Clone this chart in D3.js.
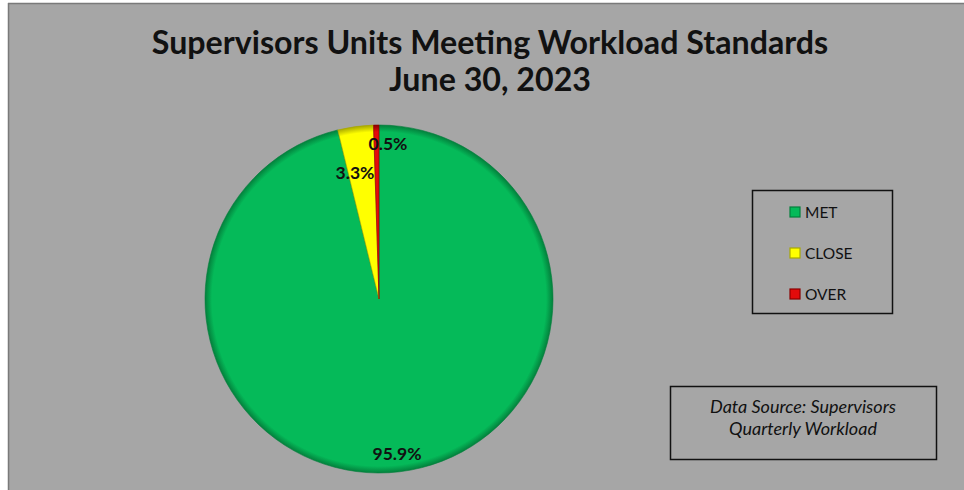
<!DOCTYPE html>
<html>
<head>
<meta charset="utf-8">
<script src="https://cdn.jsdelivr.net/npm/d3@7"></script>
<style>
  body { margin: 0; background: #fff; }
  svg { display: block; }
</style>
</head>
<body>
<svg class="chart"></svg>
<script>
// Chart size
const width = 964;
const height = 490;

// Data
const categories = ["MET", "CLOSE", "OVER"];
const values = [95.9, 3.3, 0.5];
const labels = ["95.9%", "3.3%", "0.5%"];
const colors = ["#05ba59", "#ffff00", "#e30b0b"];
const edgeColors = ["#03803c", "#a8a800", "#8a0000"];
const titleLines = ["Supervisors Units Meeting Workload Standards", "June 30, 2023"];
const sourceLines = ["Data Source: Supervisors", "Quarterly Workload"];

const font = "Lato, 'Open Sans', sans-serif";

const svg = d3.select(".chart")
    .attr("width", width)
    .attr("height", height);

// Chart area background with darker top/left edge
svg.append("rect")
    .attr("x", 8).attr("y", 3)
    .attr("width", width).attr("height", height)
    .attr("fill", "#a6a6a6");
svg.append("line")
    .attr("x1", 8.5).attr("y1", 3).attr("x2", 8.5).attr("y2", height)
    .attr("stroke", "#7a7a7a").attr("stroke-width", 1.5);
svg.append("line")
    .attr("x1", 8).attr("y1", 3.5).attr("x2", width).attr("y2", 3.5)
    .attr("stroke", "#7a7a7a").attr("stroke-width", 1.5);

// Title
svg.append("text")
    .attr("text-anchor", "middle")
    .attr("font-family", font)
    .attr("font-weight", "bold")
    .attr("font-size", 32.2)
    .attr("fill", "#111")
    .selectAll("tspan")
    .data(titleLines)
    .enter().append("tspan")
    .attr("x", 490)
    .attr("y", (d, i) => 54 + i * 37)
    .text(d => d);

// Pie
const cx = 379, cy = 299, r = 174;

const defs = svg.append("defs");
colors.forEach((c, i) => {
    const grad = defs.append("radialGradient")
        .attr("id", "bevel" + i)
        .attr("gradientUnits", "userSpaceOnUse")
        .attr("cx", 0).attr("cy", 0).attr("r", r);
    grad.append("stop").attr("offset", "0%").attr("stop-color", c);
    grad.append("stop").attr("offset", "96%").attr("stop-color", c);
    grad.append("stop").attr("offset", "100%").attr("stop-color", edgeColors[i]);
});

const pie = d3.pie().sort(null).value(d => d);
const arcs = pie(values);
const arc = d3.arc().innerRadius(0).outerRadius(r);

const g = svg.append("g").attr("transform", `translate(${cx},${cy})`);

g.selectAll(".slice")
    .data(arcs)
    .enter().append("path")
    .attr("class", "slice")
    .attr("d", arc)
    .attr("fill", (d, i) => `url(#bevel${i})`)
    .attr("stroke", (d, i) => edgeColors[i])
    .attr("stroke-width", 0.6);

// Data labels
const labelPos = [[18, 154], [-24, -127], [9, -156]];
g.selectAll(".lbl")
    .data(arcs)
    .enter().append("text")
    .attr("class", "lbl")
    .attr("x", (d, i) => labelPos[i][0])
    .attr("y", (d, i) => labelPos[i][1])
    .attr("text-anchor", "middle")
    .attr("dominant-baseline", "central")
    .attr("font-family", font)
    .attr("font-weight", "bold")
    .attr("font-size", 17.5)
    .attr("fill", "#111")
    .text((d, i) => labels[i]);

// Legend
svg.append("rect")
    .attr("x", 752.5).attr("y", 190.5)
    .attr("width", 140).attr("height", 123)
    .attr("fill", "none")
    .attr("stroke", "#111").attr("stroke-width", 1.5);

const legend = svg.selectAll(".leg")
    .data(categories)
    .enter().append("g")
    .attr("class", "leg")
    .attr("transform", (d, i) => `translate(790,${212 + i * 41})`);

legend.append("rect")
    .attr("x", 0).attr("y", -5)
    .attr("width", 10).attr("height", 10)
    .attr("fill", (d, i) => colors[i])
    .attr("stroke", (d, i) => edgeColors[i])
    .attr("stroke-width", 1.2);

legend.append("text")
    .attr("x", 15).attr("y", 0)
    .attr("dominant-baseline", "central")
    .attr("font-family", font)
    .attr("font-size", 15.5)
    .attr("fill", "#111")
    .text(d => d);

// Source box
svg.append("rect")
    .attr("x", 670.5).attr("y", 386.5)
    .attr("width", 266).attr("height", 73)
    .attr("fill", "none")
    .attr("stroke", "#111").attr("stroke-width", 1.5);

svg.append("text")
    .attr("text-anchor", "middle")
    .attr("font-family", font)
    .attr("font-style", "italic")
    .attr("font-size", 18)
    .attr("fill", "#111")
    .selectAll("tspan")
    .data(sourceLines)
    .enter().append("tspan")
    .attr("x", 803)
    .attr("y", (d, i) => 413 + i * 22)
    .text(d => d);
</script>
</body>
</html>
